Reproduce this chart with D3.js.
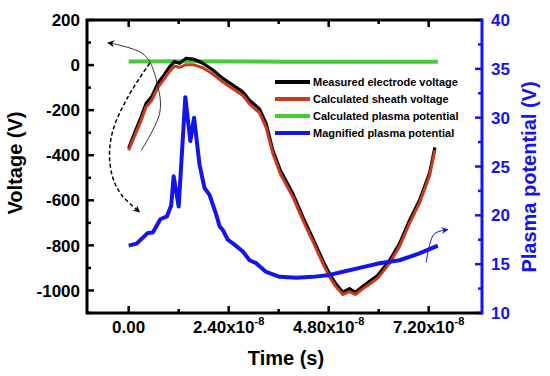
<!DOCTYPE html>
<html>
<head>
<meta charset="utf-8">
<script src="https://cdn.jsdelivr.net/npm/d3@7"></script>
<style>
  body { margin: 0; background: #fff; }
  text { font-family: "Liberation Sans", Arial, sans-serif; font-weight: bold; }
</style>
</head>
<body>
<script>
// time values are in units of 1e-8 s
var timeV = [0, 0.14, 0.30, 0.42, 0.55, 0.70, 0.82, 0.98, 1.10, 1.22, 1.38, 1.58, 1.78, 2.02, 2.26, 2.50, 2.74, 2.90, 3.14, 3.30, 3.46, 3.64, 3.94, 4.18, 4.42, 4.66, 4.82, 4.98, 5.14, 5.30, 5.44, 5.70, 5.98, 6.26, 6.50, 6.74, 6.98, 7.22, 7.35];
var electrodeV = [-369, -302, -230, -170, -141, -81, -52, -8, 15, 8, 30, 25, 8, -22, -59, -89, -119, -156, -195, -260, -378, -467, -570, -674, -769, -867, -926, -973, -1008, -992, -1008, -970, -933, -867, -792, -689, -600, -480, -365];
var sheathV = [-378, -315, -245, -185, -158, -100, -70, -28, -5, -10, 2, 0, -12, -40, -75, -105, -135, -172, -212, -278, -392, -482, -585, -688, -782, -880, -940, -985, -1018, -1005, -1018, -982, -945, -880, -805, -702, -612, -492, -378];

var timeG = [0, 1.37, 3.7, 7.42];
var plasmaV = [16, 17, 15, 15];

var timeP = [0, 0.19, 0.46, 0.58, 0.76, 0.92, 1.02, 1.08, 1.20, 1.36, 1.48, 1.57, 1.70, 1.82, 1.94, 2.10, 2.18, 2.26, 2.38, 2.54, 2.74, 2.90, 3.06, 3.30, 3.62, 4.02, 4.42, 4.82, 5.22, 5.62, 6.02, 6.50, 6.98, 7.42];
var plasmaMag = [16.9, 17.1, 18.2, 18.25, 19.6, 19.9, 21.0, 24.0, 20.9, 32.1, 27.6, 30.0, 25.2, 22.8, 22.1, 20.1, 18.9, 18.5, 17.5, 17.0, 16.3, 15.4, 15.1, 14.2, 13.7, 13.6, 13.7, 13.9, 14.3, 14.7, 15.1, 15.4, 16.1, 16.9];

var xMajor = [0, 2.4, 4.8, 7.2];
var xMinor = [1.2, 3.6, 6.0];
var yLeftTicks = [-1000, -800, -600, -400, -200, 0, 200];
var yRightTicks = [10, 15, 20, 25, 30, 35, 40];

var legendNames = ["Measured electrode voltage", "Calculated sheath voltage", "Calculated plasma potential", "Magnified plasma potential"];
var colors = ["#000000", "#cc3a1e", "#44cc33", "#1414ee"];

var w = 550, h = 376;
var margin = {top: 20, right: 68, bottom: 63, left: 87};

var svg = d3.select("body").append("svg")
    .attr("width", w).attr("height", h);

var x = d3.scaleLinear().domain([-1.0, 8.48]).range([margin.left, w - margin.right]);
var y = d3.scaleLinear().domain([-1100, 200]).range([h - margin.bottom, margin.top]);
var y2 = d3.scaleLinear().domain([10, 40]).range([h - margin.bottom, margin.top]);

var defs = svg.append("defs");
function marker(id, col) {
  defs.append("marker").attr("id", id)
    .attr("viewBox", "0 0 10 10").attr("refX", 9).attr("refY", 5)
    .attr("markerWidth", 7).attr("markerHeight", 7).attr("orient", "auto")
    .attr("markerUnits", "userSpaceOnUse")
    .append("path").attr("d", "M0,0 L10,5 L0,10 L3,5 Z").attr("fill", col);
}
marker("ab", "#000");
marker("abl", "#1414ee");

// lines
function lineL(xs, ys, sc) {
  return d3.line().x(function(d, i) { return x(xs[i]); })
    .y(function(d) { return sc(d); })(ys);
}
svg.append("path").attr("d", lineL(timeG, plasmaV, y))
  .attr("fill", "none").attr("stroke", colors[2]).attr("stroke-width", 4);
svg.append("path").attr("d", lineL(timeV, electrodeV, y))
  .attr("fill", "none").attr("stroke", colors[0]).attr("stroke-width", 3.2).attr("stroke-linejoin", "round");
svg.append("path").attr("d", lineL(timeV, sheathV, y))
  .attr("fill", "none").attr("stroke", colors[1]).attr("stroke-width", 3).attr("stroke-linejoin", "round");
svg.append("path").attr("d", lineL(timeP, plasmaMag, y2))
  .attr("fill", "none").attr("stroke", colors[3]).attr("stroke-width", 4).attr("stroke-linejoin", "round");

// annotation arrows, in data units
var arcSolid = [[0.305, -378], [0.744, -213], [0.703, -96], [0.384, 44], [-0.497, 99]];
var arcDash = [[0.504, 8], [-0.017, -141], [-0.377, -289], [-0.46, -400], [-0.38, -500], [-0.175, -575], [0.264, -652]];
var arcBlue = [[7.14, -876], [7.22, -800], [7.34, -748], [7.66, -730]];
var arcLine = d3.line().x(function(d) { return x(d[0]); }).y(function(d) { return y(d[1]); }).curve(d3.curveCatmullRom);
svg.append("path").attr("d", arcLine(arcSolid)).attr("fill", "none")
  .attr("stroke", "#333").attr("stroke-width", 1).attr("marker-end", "url(#ab)");
svg.append("path").attr("d", arcLine(arcDash)).attr("fill", "none")
  .attr("stroke", "#000").attr("stroke-width", 1.5).attr("stroke-dasharray", "4,2.5").attr("marker-end", "url(#ab)");
svg.append("path").attr("d", arcLine(arcBlue)).attr("fill", "none")
  .attr("stroke", "#1414ee").attr("stroke-width", 1).attr("marker-end", "url(#abl)");

// axes
var x0 = margin.left, x1 = w - margin.right, yb = h - margin.bottom, yt = margin.top;
var g = svg.append("g");
// bottom ticks
xMajor.forEach(function(t) {
  g.append("line").attr("x1", x(t)).attr("x2", x(t)).attr("y1", yb).attr("y2", yb - 7).attr("stroke", "#000").attr("stroke-width", 2.5);
  g.append("line").attr("x1", x(t)).attr("x2", x(t)).attr("y1", yt).attr("y2", yt + 7).attr("stroke", "#000").attr("stroke-width", 2.5);
});
xMinor.forEach(function(t) {
  g.append("line").attr("x1", x(t)).attr("x2", x(t)).attr("y1", yb).attr("y2", yb - 4).attr("stroke", "#000").attr("stroke-width", 2.5);
  g.append("line").attr("x1", x(t)).attr("x2", x(t)).attr("y1", yt).attr("y2", yt + 4).attr("stroke", "#000").attr("stroke-width", 2.5);
});
xMajor.forEach(function(t) {
  var tx = g.append("text").attr("x", x(t)).attr("y", 333).attr("text-anchor", "middle").attr("font-size", 17);
  if (t === 0) { tx.text("0.00"); }
  else {
    tx.append("tspan").text(t.toFixed(2) + "x10");
    tx.append("tspan").attr("dy", -8).attr("font-size", 11).text("-8");
  }
});
// left ticks
d3.range(-1100, 201, 100).forEach(function(v) {
  var major = v % 200 === 0;
  g.append("line").attr("x1", x0).attr("x2", x0 + (major ? 7 : 4)).attr("y1", y(v)).attr("y2", y(v)).attr("stroke", "#000").attr("stroke-width", 2.5);
});
yLeftTicks.forEach(function(v) {
  g.append("text").attr("x", x0 - 7).attr("y", y(v)).attr("dy", "0.36em").attr("text-anchor", "end").attr("font-size", 17).text(v);
});
// right ticks
d3.range(10, 40.1, 2.5).forEach(function(v) {
  var major = v % 5 === 0;
  g.append("line").attr("x1", x1).attr("x2", x1 - (major ? 7 : 4)).attr("y1", y2(v)).attr("y2", y2(v)).attr("stroke", "#1414ee").attr("stroke-width", 2.5);
});
yRightTicks.forEach(function(v) {
  g.append("text").attr("x", x1 + 9).attr("y", y2(v)).attr("dy", "0.36em").attr("font-size", 17).attr("fill", "#1414ee").text(v);
});
// frame
g.append("path").attr("d", "M" + x1 + "," + yt + "H" + x0 + "V" + yb + "H" + x1)
  .attr("fill", "none").attr("stroke", "#000").attr("stroke-width", 3);
g.append("line").attr("x1", x1).attr("x2", x1).attr("y1", yt - 1.5).attr("y2", yb + 1.5)
  .attr("stroke", "#1414ee").attr("stroke-width", 3);

// axis titles
svg.append("text").attr("x", 286).attr("y", 365).attr("text-anchor", "middle").attr("font-size", 20).text("Time (s)");
svg.append("text").attr("transform", "translate(22,163) rotate(-90)").attr("text-anchor", "middle").attr("font-size", 20).text("Voltage (V)");
svg.append("text").attr("transform", "translate(536,177) rotate(-90)").attr("text-anchor", "middle").attr("font-size", 20).attr("fill", "#1414ee").text("Plasma potential (V)");

// legend
var leg = svg.append("g").attr("transform", "translate(275,82)");
legendNames.forEach(function(n, i) {
  leg.append("line").attr("x1", 0).attr("x2", 35).attr("y1", i * 17).attr("y2", i * 17)
    .attr("stroke", colors[i]).attr("stroke-width", 4);
  leg.append("text").attr("x", 38).attr("y", i * 17).attr("dy", "0.36em").attr("font-size", 11).text(n);
});
</script>
</body>
</html>
